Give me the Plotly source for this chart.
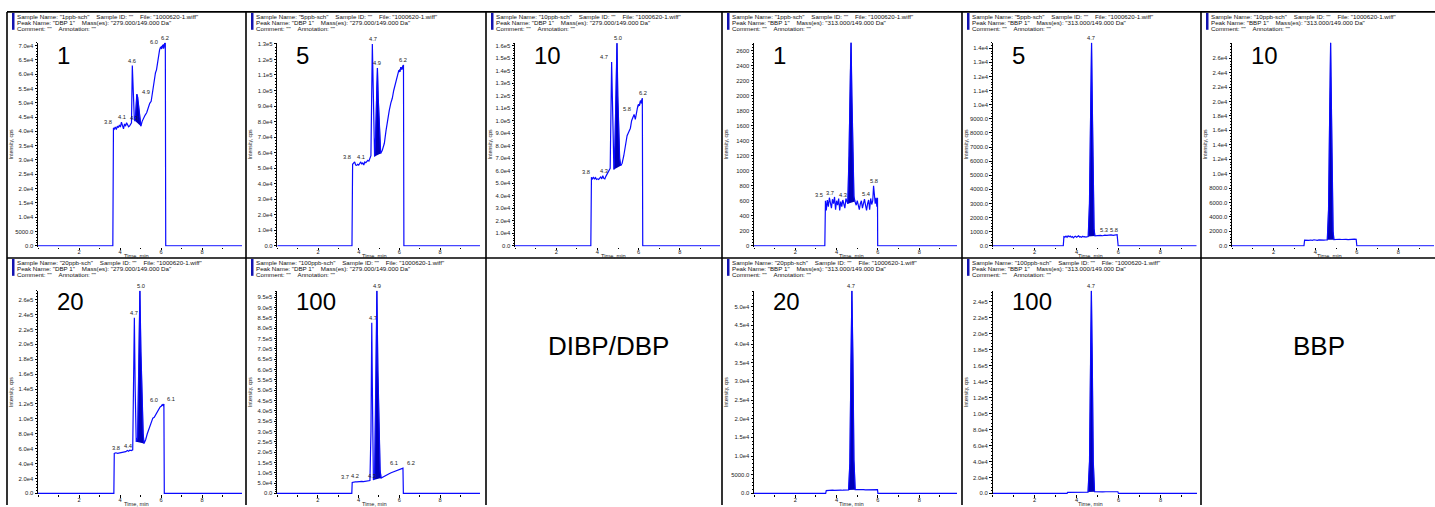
import plotly.graph_objects as go
import numpy as np

W, H = 1435, 507

# ---------------- DATA ----------------
CONC = ["1", "5", "10", "1", "5", "10", "20", "100", "20", "100"]
SAMPLES = ["1ppb-sch", "5ppb-sch", "10ppb-sch", "1ppb-sch", "5ppb-sch", "10ppb-sch",
           "20ppb-sch", "100ppb-sch", "20ppb-sch", "100ppb-sch"]
PEAKS = ["DBP 1", "DBP 1", "DBP 1", "BBP 1", "BBP 1", "BBP 1", "DBP 1", "DBP 1", "BBP 1", "BBP 1"]
MASSES = ["279.000/149.000 Da"] * 3 + ["313.000/149.000 Da"] * 3 + ["279.000/149.000 Da"] * 2 + ["313.000/149.000 Da"] * 2
GROUP_LABELS = ["DIBP/DBP", "BBP"]

T1 = [0.0, 3.65, 3.68, 3.72, 3.77, 3.82, 3.87, 3.92, 3.97, 4.02, 4.07, 4.12, 4.17, 4.22, 4.27, 4.32, 4.37, 4.42, 4.47, 4.52, 4.56, 4.60, 4.65, 4.70, 4.74, 4.78, 4.82, 4.86, 4.90, 4.94, 4.98, 5.02, 5.08, 5.15, 5.22, 5.30, 5.38, 5.45, 5.52, 5.58, 5.63, 5.68, 5.73, 5.78, 5.83, 5.88, 5.93, 5.98, 6.03, 6.08, 6.13, 6.18, 6.21, 6.23, 9.95]
V1 = [0, 0, 41200, 40800, 41500, 40600, 41800, 41300, 42200, 41500, 43200, 42000, 40900, 42600, 41800, 43000, 42300, 41600, 41900, 42300, 43000, 63000, 50000, 44000, 43600, 48500, 53000, 52000, 49000, 45500, 42500, 41800, 43500, 44800, 45600, 46500, 48500, 49800, 50500, 53500, 55500, 58500, 60500, 61500, 64500, 66500, 68500, 69500, 68800, 70200, 69000, 70800, 71000, 0, 0]

T2 = [0.0, 3.67, 3.70, 3.75, 3.80, 3.85, 3.90, 3.95, 4.00, 4.05, 4.10, 4.15, 4.20, 4.25, 4.30, 4.35, 4.40, 4.45, 4.50, 4.55, 4.60, 4.67, 4.75, 4.78, 4.83, 4.88, 4.92, 4.96, 5.00, 5.04, 5.08, 5.16, 5.26, 5.34, 5.42, 5.50, 5.58, 5.65, 5.72, 5.80, 5.86, 5.92, 5.97, 6.02, 6.07, 6.12, 6.17, 6.20, 6.22, 9.96]
V2 = [0, 0, 52500, 53500, 54000, 52000, 51800, 52500, 52000, 53000, 54000, 52500, 53500, 52000, 54000, 53500, 54500, 55000, 54500, 56000, 58000, 130000, 58500, 57500, 70000, 100000, 114500, 95000, 78000, 64000, 59500, 61500, 66000, 74000, 82000, 87000, 92000, 95000, 100000, 104000, 108000, 111000, 113000, 112000, 115000, 113500, 116000, 116500, 0, 0]

T3 = [0.0, 3.68, 3.71, 3.76, 3.81, 3.86, 3.91, 3.96, 4.01, 4.06, 4.11, 4.16, 4.21, 4.26, 4.31, 4.36, 4.41, 4.46, 4.51, 4.56, 4.62, 4.69, 4.77, 4.80, 4.85, 4.90, 4.95, 4.99, 5.03, 5.08, 5.13, 5.20, 5.28, 5.36, 5.44, 5.52, 5.60, 5.66, 5.72, 5.78, 5.84, 5.89, 5.94, 5.99, 6.04, 6.09, 6.14, 6.18, 6.20, 9.95]
V3 = [0, 0, 54700, 53500, 55000, 53200, 54500, 53000, 53500, 53000, 54000, 55000, 53500, 56000, 54000, 53500, 55500, 57000, 58500, 60000, 62000, 147000, 61500, 61000, 80000, 120000, 162000, 120000, 90000, 70000, 64000, 66000, 72000, 80000, 88000, 91000, 94000, 100000, 103000, 105000, 101000, 108000, 110000, 113000, 112000, 116000, 114000, 118000, 0, 0]

T4 = [0.0, 3.43, 3.46, 3.50, 3.55, 3.60, 3.65, 3.70, 3.75, 3.80, 3.85, 3.90, 3.95, 4.00, 4.05, 4.10, 4.15, 4.20, 4.25, 4.30, 4.35, 4.40, 4.45, 4.50, 4.54, 4.60, 4.66, 4.70, 4.74, 4.79, 4.84, 4.89, 4.95, 5.00, 5.05, 5.10, 5.15, 5.20, 5.25, 5.30, 5.35, 5.40, 5.45, 5.50, 5.55, 5.60, 5.65, 5.70, 5.75, 5.79, 5.83, 5.87, 5.91, 5.95, 5.98, 5.99, 9.83]
V4 = [0, 0, 600, 470, 610, 520, 640, 580, 500, 620, 560, 650, 480, 600, 540, 630, 470, 590, 520, 610, 550, 500, 630, 580, 560, 1200, 2300, 2720, 2000, 1000, 650, 590, 540, 600, 530, 480, 560, 600, 500, 580, 620, 540, 470, 560, 610, 480, 630, 550, 600, 800, 600, 560, 640, 520, 640, 0, 0]

T5 = [0.0, 3.37, 3.40, 3.45, 3.50, 3.55, 3.60, 3.65, 3.70, 3.75, 3.80, 3.85, 3.90, 3.95, 4.00, 4.05, 4.10, 4.15, 4.20, 4.25, 4.30, 4.35, 4.40, 4.45, 4.50, 4.56, 4.62, 4.67, 4.72, 4.76, 4.80, 4.84, 4.88, 4.95, 5.05, 5.15, 5.25, 5.35, 5.45, 5.55, 5.65, 5.75, 5.85, 5.94, 5.99, 9.74]
V5 = [0, 0, 650, 620, 680, 600, 700, 640, 690, 610, 660, 560, 640, 680, 600, 650, 700, 620, 640, 600, 680, 630, 650, 610, 640, 660, 3000, 9000, 14400, 9500, 4000, 1200, 700, 720, 700, 740, 710, 750, 730, 760, 770, 740, 780, 790, 0, 0]

T6 = [0.0, 3.46, 3.49, 3.55, 3.62, 3.70, 3.78, 3.86, 3.94, 4.02, 4.10, 4.18, 4.26, 4.34, 4.42, 4.50, 4.58, 4.64, 4.69, 4.74, 4.78, 4.82, 4.86, 4.90, 4.98, 5.08, 5.18, 5.28, 5.38, 5.48, 5.58, 5.68, 5.78, 5.88, 5.97, 6.00, 9.71]
V6 = [0, 0, 790, 760, 820, 740, 800, 760, 830, 780, 750, 810, 770, 830, 790, 800, 820, 5000, 18000, 28200, 19000, 8000, 2000, 850, 880, 860, 900, 870, 920, 880, 850, 900, 880, 910, 890, 0, 0]

T7 = [0.0, 3.70, 3.72, 3.80, 3.88, 3.96, 4.04, 4.12, 4.20, 4.28, 4.36, 4.42, 4.48, 4.55, 4.62, 4.66, 4.70, 4.74, 4.79, 4.86, 4.92, 4.97, 5.02, 5.08, 5.13, 5.17, 5.25, 5.33, 5.40, 5.47, 5.54, 5.60, 5.67, 5.74, 5.81, 5.88, 5.95, 6.01, 6.06, 6.10, 6.14, 6.16, 9.95]
V7 = [0, 0, 53700, 54500, 53800, 54200, 55000, 54500, 55200, 56000, 57500, 56500, 58000, 57500, 58500, 150000, 235600, 140000, 69200, 75000, 180000, 272000, 190000, 120000, 80000, 67000, 72000, 80000, 86000, 92000, 95000, 101000, 102000, 106000, 109000, 112000, 115800, 117000, 119000, 118000, 120000, 0, 0]

T8 = [0.0, 3.67, 3.69, 3.76, 3.84, 3.92, 4.00, 4.08, 4.16, 4.24, 4.32, 4.40, 4.48, 4.56, 4.61, 4.65, 4.69, 4.73, 4.79, 4.85, 4.90, 4.95, 5.01, 5.06, 5.11, 5.20, 5.30, 5.40, 5.50, 5.60, 5.70, 5.80, 5.90, 6.00, 6.08, 6.14, 6.18, 6.20, 9.96]
V8 = [0, 0, 52900, 55000, 56000, 55500, 57000, 56500, 58000, 57500, 59000, 58500, 60000, 62000, 300000, 827000, 400000, 65000, 80000, 500000, 982000, 600000, 250000, 110000, 74000, 78000, 84000, 90000, 95000, 100000, 104000, 108000, 111000, 114000, 118000, 121000, 122000, 0, 0]

T9 = [0.0, 3.47, 3.50, 3.60, 3.70, 3.80, 3.90, 4.00, 4.10, 4.20, 4.30, 4.40, 4.50, 4.58, 4.64, 4.69, 4.74, 4.79, 4.84, 4.90, 5.00, 5.10, 5.20, 5.30, 5.40, 5.50, 5.60, 5.70, 5.80, 5.90, 5.98, 6.00, 9.83]
V9 = [0, 0, 750, 820, 780, 850, 800, 870, 830, 880, 850, 900, 870, 900, 8000, 35000, 54300, 36000, 9000, 1000, 950, 980, 940, 1000, 960, 990, 1010, 970, 1000, 980, 990, 0, 0]

T10 = [0.0, 3.55, 3.58, 3.70, 3.85, 4.00, 4.15, 4.30, 4.45, 4.55, 4.62, 4.67, 4.71, 4.75, 4.80, 4.86, 4.95, 5.10, 5.25, 5.40, 5.55, 5.70, 5.85, 5.97, 6.00, 9.74]
V10 = [0, 0, 1300, 1400, 1350, 1500, 1450, 1550, 1500, 1600, 40000, 180000, 254000, 170000, 40000, 2200, 2000, 2100, 1950, 2050, 2000, 2100, 2000, 2050, 0, 0]

# peak-integration windows (min) and labelled retention times
FILLS = [[(4.74, 5.02), (5.98, 6.21)], [(4.78, 5.08), (5.97, 6.20)], [(4.80, 5.13), (5.94, 6.18)],
         [(4.54, 4.89)], [(4.56, 4.88)], [(4.58, 4.90)],
         [(4.79, 5.17), (5.95, 6.14)], [(4.73, 5.11)], [(4.58, 4.90)], [(4.55, 4.86)]]
LABELS = [[3.8, 4.1, 4.3, 4.6, 4.9, 6.0, 6.2], [3.8, 4.1, 4.7, 4.9, 6.2], [3.8, 4.3, 4.7, 5.0, 5.8, 6.2],
          [3.5, 3.7, 4.3, 4.7, 5.4, 5.8], [4.7, 5.3, 5.8], [4.7],
          [3.8, 4.4, 4.7, 5.0, 6.0, 6.1], [3.7, 4.2, 4.3, 4.7, 4.9, 6.1, 6.2], [4.7], [4.7]]

YT1 = ["0.0", "5000.0", "1.0e4", "1.5e4", "2.0e4", "2.5e4", "3.0e4", "3.5e4", "4.0e4", "4.5e4", "5.0e4", "5.5e4", "6.0e4", "6.5e4", "7.0e4"]
YT2 = ["0.0", "1.0e4", "2.0e4", "3.0e4", "4.0e4", "5.0e4", "6.0e4", "7.0e4", "8.0e4", "9.0e4", "1.0e5", "1.1e5", "1.2e5", "1.3e5"]
YT3 = ["0.0", "1.0e4", "2.0e4", "3.0e4", "4.0e4", "5.0e4", "6.0e4", "7.0e4", "8.0e4", "9.0e4", "1.0e5", "1.1e5", "1.2e5", "1.3e5", "1.4e5", "1.5e5", "1.6e5"]
YT4 = ["0", "200", "400", "600", "800", "1000", "1200", "1400", "1600", "1800", "2000", "2200", "2400", "2600"]
YT5 = ["0.0", "1000.0", "2000.0", "3000.0", "4000.0", "5000.0", "6000.0", "7000.0", "8000.0", "9000.0", "1.0e4", "1.1e4", "1.2e4", "1.3e4", "1.4e4"]
YT6 = ["0.0", "2000.0", "4000.0", "6000.0", "8000.0", "1.0e4", "1.2e4", "1.4e4", "1.6e4", "1.8e4", "2.0e4", "2.2e4", "2.4e4", "2.6e4"]
YT7 = ["0.0", "2.0e4", "4.0e4", "6.0e4", "8.0e4", "1.0e5", "1.2e5", "1.4e5", "1.6e5", "1.8e5", "2.0e5", "2.2e5", "2.4e5", "2.6e5"]
YT8 = ["0.0", "5.0e4", "1.0e5", "1.5e5", "2.0e5", "2.5e5", "3.0e5", "3.5e5", "4.0e5", "4.5e5", "5.0e5", "5.5e5", "6.0e5", "6.5e5", "7.0e5", "7.5e5", "8.0e5", "8.5e5", "9.0e5", "9.5e5"]
YT9 = ["0.0", "5000.0", "1.0e4", "1.5e4", "2.0e4", "2.5e4", "3.0e4", "3.5e4", "4.0e4", "4.5e4", "5.0e4"]
YT10 = ["0.0", "2.0e4", "4.0e4", "6.0e4", "8.0e4", "1.0e5", "1.2e5", "1.4e5", "1.6e5", "1.8e5", "2.0e5", "2.2e5", "2.4e5"]
XT = ["2", "4", "6", "8"]

TIMES = [T1, T2, T3, T4, T5, T6, T7, T8, T9, T10]
VALUES = [V1, V2, V3, V4, V5, V6, V7, V8, V9, V10]
YTICKS = [YT1, YT2, YT3, YT4, YT5, YT6, YT7, YT8, YT9, YT10]
for t, v in zip(TIMES, VALUES):
    assert len(t) == len(v), (len(t), len(v))

# ---------------- LAYOUT / STYLE ----------------
# horizontal placement of each peak label relative to its peak
LABEL_ANCHOR = [
    ["right", "center", "left", "center", "left", "right", "center"],
    ["right", "center", "center", "center", "center"],
    ["right", "center", "right", "center", "right", "center"],
    ["right", "center", "center", "center", "center", "center"],
    ["center", "center", "center"],
    ["center"],
    ["center", "center", "center", "center", "right", "left"],
    ["right", "right", "left", "center", "center", "right", "left"],
    ["center"],
    ["center"],
]
COL_LEFT = [7, 246, 486, 722, 962, 1201]
ROW_TOP = [10, 258]
# col, row, axis-left, axis-right, plot-top, plot-bottom, x max, y max
GEOM = [
    (0, 0, 38, 242, 41, 245.7, 9.95, 7.1e4),
    (1, 0, 277.3, 480, 41, 245.7, 9.96, 1.308e5),
    (2, 0, 515, 720, 41, 245.7, 9.95, 1.624e5),
    (3, 0, 754, 957, 41, 245.7, 9.83, 2705),
    (4, 0, 992.7, 1196.7, 41, 245.7, 9.74, 1.44e4),
    (5, 0, 1232, 1434, 41, 245.7, 9.71, 2.816e4),
    (0, 1, 38, 242, 291, 495.3, 9.95, 2.72e5),
    (1, 1, 277, 480, 291, 495.3, 9.96, 9.82e5),
    (3, 1, 754, 957, 291, 495.3, 9.83, 5.43e4),
    (4, 1, 992.5, 1197, 291, 495.3, 9.74, 2.54e5),
]

FONT = "Liberation Sans, Arial, sans-serif"
LINE = "#0a0aff"
FILL = "#0000b8"
BAR = "#1212b0"
NB = "\u00a0" * 4


def px(x):
    return x / W


def py(y):
    return 1 - y / H


fig = go.Figure()
annotations = []
shapes = []
layout = {}

for i, (col, row, l, r, t, b, xmax, ymax) in enumerate(GEOM):
    n = i + 1
    xa = "x" if n == 1 else f"x{n}"
    ya = "y" if n == 1 else f"y{n}"
    tt = np.array(TIMES[i], dtype=float)
    vv = np.array(VALUES[i], dtype=float)

    for (a, bb) in FILLS[i]:
        m = (tt >= a) & (tt <= bb)
        fig.add_trace(go.Scatter(x=tt[m], y=vv[m], mode="lines", fill="toself",
                                 fillcolor=FILL, line=dict(width=0.6, color=FILL),
                                 xaxis=xa, yaxis=ya, hoverinfo="skip", showlegend=False))
    fig.add_trace(go.Scatter(x=tt, y=vv, mode="lines", line=dict(color=LINE, width=1.2),
                             xaxis=xa, yaxis=ya, showlegend=False))

    # peak labels
    for lt, anc in zip(LABELS[i], LABEL_ANCHOR[i]):
        m = (tt >= lt - 0.06) & (tt <= lt + 0.06)
        yv = vv[m].max() if m.any() else float(np.interp(lt, tt, vv))
        xs = {"right": -1.5, "left": 1.5, "center": 0}[anc]
        annotations.append(dict(x=lt, y=yv, xref=xa, yref=ya, text=f"{lt:.1f}",
                                showarrow=False, yanchor="bottom", xanchor=anc, xshift=xs,
                                font=dict(size=5.7, color="#222", family=FONT)))

    yvals = [float(s) for s in YTICKS[i]]
    step = yvals[1] - yvals[0]
    pad = ymax * 1.0 / (b - t)
    layout["xaxis" if n == 1 else f"xaxis{n}"] = dict(
        domain=[px(l), px(r)], range=[0, xmax], anchor=ya,
        showline=False, showgrid=False, zeroline=False,
        tickmode="array", tickvals=[float(s) for s in XT], ticktext=XT,
        ticks="outside", ticklen=2.5, tickwidth=1, tickcolor="#000",
        ticklabelstandoff=-3,
        tickfont=dict(size=5.7, color="#222", family=FONT),
        minor=dict(tickmode="linear", tick0=0, dtick=1, ticks="outside", ticklen=1.5, tickcolor="#000"),
        fixedrange=True)
    layout["yaxis" if n == 1 else f"yaxis{n}"] = dict(
        domain=[py(b + 1), py(t)], range=[-pad, ymax], anchor=xa,
        showline=True, linecolor="#000", linewidth=1, showgrid=False, zeroline=False,
        tickmode="array", tickvals=yvals, ticktext=YTICKS[i],
        ticks="outside", ticklen=2.5, tickwidth=1, tickcolor="#000",
        tickfont=dict(size=5.9, color="#222", family=FONT),
        minor=dict(tickmode="linear", tick0=0, dtick=step / 5, ticks="outside", ticklen=1, tickcolor="#000"),
        fixedrange=True)

    cl = COL_LEFT[col]
    rt = ROW_TOP[row]
    # header
    hdr = [f'Sample Name: "{SAMPLES[i]}"{NB}Sample ID: ""{NB}File: "1000620-1.wiff"',
           f'Peak Name: "{PEAKS[i]}"{NB}Mass(es): "{MASSES[i]}"',
           f'Comment: ""{NB}Annotation: ""']
    for k, line in enumerate(hdr):
        annotations.append(dict(x=px(cl + 8), y=py(rt + 4.4 + 6.2 * k), xref="paper", yref="paper",
                                text=line, showarrow=False, xanchor="left", yanchor="middle",
                                font=dict(size=6.2, color="#111", family=FONT)))
    shapes.append(dict(type="rect", xref="paper", yref="paper", x0=px(cl + 5), x1=px(cl + 7.5),
                       y0=py(rt + 18), y1=py(rt + 1), fillcolor=BAR, line=dict(width=0)))
    # concentration label
    annotations.append(dict(x=px(l + 17), y=py(t + 12.5 if row == 0 else t + 11), xref="paper", yref="paper",
                            text=CONC[i], showarrow=False, xanchor="left", yanchor="middle",
                            font=dict(size=24, color="#000", family=FONT)))
    # axis titles
    annotations.append(dict(x=px(cl + 4), y=py((t + b) / 2), xref="paper", yref="paper",
                            text="Intensity, cps", textangle=-90, showarrow=False,
                            xanchor="center", yanchor="middle",
                            font=dict(size=5.2, color="#222", family=FONT)))
    annotations.append(dict(x=px((l + r) / 2 - 4), y=py(b + 10.5), xref="paper", yref="paper",
                            text="Time, min", showarrow=False, xanchor="center", yanchor="middle",
                            font=dict(size=5.7, color="#222", family=FONT)))

# group labels in empty cells
annotations.append(dict(x=px(608), y=py(347), xref="paper", yref="paper", text=GROUP_LABELS[0],
                        showarrow=False, xanchor="center", yanchor="middle",
                        font=dict(size=26, color="#000", family=FONT)))
annotations.append(dict(x=px(1319), y=py(347), xref="paper", yref="paper", text=GROUP_LABELS[1],
                        showarrow=False, xanchor="center", yanchor="middle",
                        font=dict(size=26, color="#000", family=FONT)))

# cell borders
for xl in COL_LEFT:
    shapes.append(dict(type="line", xref="paper", yref="paper", x0=px(xl), x1=px(xl),
                       y0=py(ROW_TOP[0]), y1=0, line=dict(color="#000", width=1.6)))
for yl in ROW_TOP:
    shapes.append(dict(type="line", xref="paper", yref="paper", x0=px(COL_LEFT[0]), x1=1,
                       y0=py(yl), y1=py(yl), line=dict(color="#000", width=1.6)))

fig.update_layout(width=W, height=H, margin=dict(l=0, r=0, t=0, b=0),
                  paper_bgcolor="white", plot_bgcolor="white",
                  showlegend=False, annotations=annotations, shapes=shapes,
                  font=dict(family=FONT), **layout)

fig.write_html("out.html", config={"displayModeBar": False},
               post_script="document.body.style.margin='0';document.body.style.overflow='hidden';")
